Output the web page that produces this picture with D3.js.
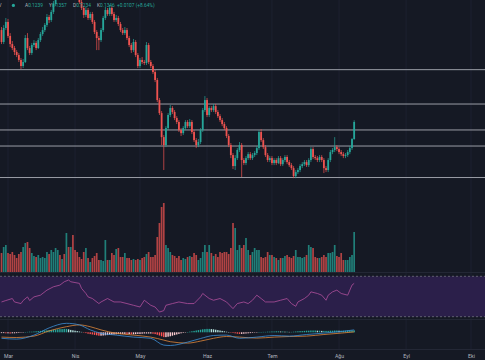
<!DOCTYPE html>
<html><head><meta charset="utf-8">
<script src="https://cdn.jsdelivr.net/npm/d3@7"></script>
<style>html,body{margin:0;padding:0;background:#151924;overflow:hidden}svg{display:block}</style>
</head><body><svg id="c" width="485" height="360"></svg>
<script>
// ---------- DATA ----------
const firstDay = new Date(2023, 1, 26);
const opens = [0.1924,0.1849,0.1937,0.1975,0.1887,0.1836,0.1811,0.1786,0.1767,0.1736,
0.1698,0.1723,0.1874,0.1811,0.1780,0.1830,0.1843,0.1811,0.1861,0.1899,
0.1924,0.1956,0.2006,0.1987,0.2038,0.2088,0.2144,0.2207,0.2176,0.2270,
0.2239,0.2333,0.2289,0.2314,0.2239,0.2188,0.2144,0.2100,0.2063,0.2019,
0.2050,0.2000,0.2025,0.1975,0.1912,0.1874,0.1861,0.1924,0.2000,0.2050,
0.2025,0.2063,0.2025,0.1987,0.2000,0.1962,0.1924,0.1905,0.1924,0.1874,
0.1830,0.1798,0.1849,0.1767,0.1698,0.1736,0.1723,0.1717,0.1830,0.1723,
0.1698,0.1660,0.1610,0.1484,0.1402,0.1251,0.1201,0.1308,0.1390,0.1434,
0.1409,0.1371,0.1346,0.1295,0.1276,0.1308,0.1346,0.1320,0.1346,0.1283,
0.1232,0.1201,0.1220,0.1295,0.1421,0.1484,0.1390,0.1434,0.1421,0.1446,
0.1409,0.1383,0.1358,0.1333,0.1308,0.1258,0.1201,0.1138,0.1069,0.1119,
0.1170,0.1201,0.1107,0.1088,0.1119,0.1144,0.1119,0.1138,0.1151,0.1182,
0.1283,0.1232,0.1188,0.1138,0.1107,0.1119,0.1088,0.1107,0.1088,0.1119,
0.1081,0.1107,0.1126,0.1094,0.1075,0.1056,0.1006,0.1031,0.1044,0.1069,
0.1081,0.1094,0.1075,0.1107,0.1176,0.1126,0.1119,0.1107,0.1126,0.1107,
0.1056,0.1044,0.1107,0.1157,0.1170,0.1188,0.1176,0.1157,0.1144,0.1132,
0.1138,0.1157,0.1182,0.1239];
const highs = [0.1943,0.1955,0.2000,0.1994,0.1905,0.1855,0.1824,0.1798,0.1780,0.1748,
0.1742,0.1893,0.1905,0.1824,0.1843,0.1861,0.1855,0.1874,0.1912,0.1943,
0.1968,0.2025,0.2019,0.2050,0.2107,0.2163,0.2226,0.2220,0.2289,0.2289,
0.2358,0.2346,0.2333,0.2327,0.2251,0.2207,0.2157,0.2119,0.2075,0.2069,
0.2063,0.2038,0.2038,0.1987,0.1924,0.1887,0.1937,0.2013,0.2069,0.2063,
0.2082,0.2075,0.2038,0.2019,0.2013,0.1975,0.1937,0.1943,0.1937,0.1887,
0.1843,0.1868,0.1861,0.1780,0.1748,0.1754,0.1736,0.1849,0.1843,0.1736,
0.1710,0.1673,0.1623,0.1497,0.1415,0.1264,0.1320,0.1402,0.1453,0.1446,
0.1421,0.1383,0.1358,0.1308,0.1320,0.1358,0.1358,0.1365,0.1358,0.1295,
0.1245,0.1239,0.1308,0.1434,0.1509,0.1497,0.1446,0.1446,0.1459,0.1459,
0.1421,0.1396,0.1371,0.1346,0.1320,0.1270,0.1214,0.1151,0.1138,0.1182,
0.1220,0.1214,0.1119,0.1132,0.1157,0.1157,0.1151,0.1163,0.1195,0.1295,
0.1301,0.1245,0.1201,0.1151,0.1132,0.1132,0.1119,0.1119,0.1132,0.1132,
0.1119,0.1138,0.1138,0.1107,0.1088,0.1069,0.1044,0.1056,0.1081,0.1094,
0.1107,0.1107,0.1119,0.1188,0.1188,0.1138,0.1132,0.1138,0.1138,0.1119,
0.1069,0.1119,0.1170,0.1182,0.1251,0.1201,0.1188,0.1170,0.1157,0.1151,
0.1170,0.1195,0.1245,0.1357];
const lows = [0.1836,0.1836,0.1924,0.1874,0.1817,0.1798,0.1767,0.1754,0.1723,0.1679,
0.1685,0.1717,0.1798,0.1767,0.1767,0.1817,0.1798,0.1805,0.1849,0.1887,
0.1912,0.1943,0.1968,0.1975,0.2025,0.2075,0.2132,0.2157,0.2163,0.2220,
0.2226,0.2270,0.2276,0.2220,0.2176,0.2132,0.2088,0.2050,0.2000,0.2006,
0.1987,0.1987,0.1962,0.1899,0.1798,0.1798,0.1849,0.1912,0.1987,0.2013,
0.2013,0.2013,0.1975,0.1975,0.1949,0.1912,0.1893,0.1893,0.1861,0.1817,
0.1780,0.1786,0.1754,0.1685,0.1685,0.1710,0.1704,0.1704,0.1710,0.1685,
0.1648,0.1597,0.1471,0.1390,0.1201,0.1044,0.1188,0.1295,0.1377,0.1396,
0.1358,0.1333,0.1283,0.1258,0.1264,0.1295,0.1308,0.1308,0.1270,0.1220,
0.1182,0.1188,0.1207,0.1283,0.1409,0.1377,0.1377,0.1409,0.1409,0.1396,
0.1371,0.1346,0.1320,0.1295,0.1245,0.1188,0.1119,0.1050,0.1044,0.1107,
0.1157,0.1000,0.1075,0.1075,0.1107,0.1107,0.1107,0.1126,0.1138,0.1170,
0.1220,0.1176,0.1126,0.1094,0.1094,0.1075,0.1075,0.1075,0.1081,0.1069,
0.1069,0.1094,0.1081,0.1063,0.1044,0.0993,0.0993,0.1019,0.1031,0.1056,
0.1069,0.1063,0.1063,0.1094,0.1113,0.1107,0.1094,0.1094,0.1094,0.1025,
0.1031,0.1031,0.1094,0.1144,0.1157,0.1163,0.1144,0.1132,0.1119,0.1119,
0.1126,0.1144,0.1170,0.1234];
const closes = [0.1849,0.1937,0.1975,0.1887,0.1836,0.1811,0.1786,0.1767,0.1736,0.1698,
0.1723,0.1874,0.1811,0.1780,0.1830,0.1843,0.1811,0.1861,0.1899,0.1924,
0.1956,0.2006,0.1987,0.2038,0.2088,0.2144,0.2207,0.2176,0.2270,0.2239,
0.2333,0.2289,0.2314,0.2239,0.2188,0.2144,0.2100,0.2063,0.2019,0.2050,
0.2000,0.2025,0.1975,0.1912,0.1874,0.1861,0.1924,0.2000,0.2050,0.2025,
0.2063,0.2025,0.1987,0.2000,0.1962,0.1924,0.1905,0.1924,0.1874,0.1830,
0.1798,0.1849,0.1767,0.1698,0.1736,0.1723,0.1717,0.1830,0.1723,0.1698,
0.1660,0.1610,0.1484,0.1402,0.1251,0.1201,0.1308,0.1390,0.1434,0.1409,
0.1371,0.1346,0.1295,0.1276,0.1308,0.1346,0.1320,0.1346,0.1283,0.1232,
0.1201,0.1220,0.1295,0.1421,0.1484,0.1390,0.1434,0.1421,0.1446,0.1409,
0.1383,0.1358,0.1333,0.1308,0.1258,0.1201,0.1138,0.1069,0.1119,0.1170,
0.1201,0.1107,0.1088,0.1119,0.1144,0.1119,0.1138,0.1151,0.1182,0.1283,
0.1232,0.1188,0.1138,0.1107,0.1119,0.1088,0.1107,0.1088,0.1119,0.1081,
0.1107,0.1126,0.1094,0.1075,0.1056,0.1006,0.1031,0.1044,0.1069,0.1081,
0.1094,0.1075,0.1107,0.1176,0.1126,0.1119,0.1107,0.1126,0.1107,0.1056,
0.1044,0.1107,0.1157,0.1170,0.1188,0.1176,0.1157,0.1144,0.1132,0.1138,
0.1157,0.1182,0.1239,0.1346];
// volume in millions
const volumes = [9.5,12.5,13.5,9.5,9,10,8.5,7,9,10,
12.5,14.5,15,12,9.5,8,7.5,8.5,7,7.5,
7,10,9,11,10,12,11,8.5,6.5,9,
19.5,12.5,12.5,18.5,11,10,7.5,6.5,10,12,
7,5,7,8,9.5,6,6,5.5,16,6,
6,9.5,8.5,11.5,12,7.5,7.5,9.5,7,7,
6,6.5,6,6.5,6,7,7.5,9,10,7.5,
7.5,8.5,17.5,24.5,32.5,34.5,13.5,12,10,8.5,
8,7,8,6,7,6.5,7.5,8,7.5,9.5,
8.5,6,7,10,13.5,10,13.5,9.5,8,9,
7.5,10,9.5,10,10,9,12,24.5,22,11,
13.5,12,13.5,17,11,8.5,10,12,11,11,
7.5,7,7.5,10,8.5,8.5,7.5,7,6,7,
7,8,8.5,7.5,7,8,11,7.5,7.5,7,
7.5,8.5,13.5,12.5,12,7.5,7,7,7.5,8.5,
7.5,9.5,9.5,10,13.5,8,7.5,9.5,6,6,
6,7.5,8.5,20];
// horizontal support / resistance levels
const levels = [0.1675, 0.1459, 0.1296, 0.1195, 0.0997];
// time axis
const monthTicks = [new Date(2023,2,1),new Date(2023,3,1),new Date(2023,4,1),new Date(2023,5,1),
  new Date(2023,6,1),new Date(2023,7,1),new Date(2023,8,1),new Date(2023,9,1)];
const monthLabels = ["Mar","Nis","May","Haz","Tem","Ağu","Eyl","Eki"];
// RSI (read at candle indices)
const rsiIdx = [0,2,5,6,9,10,12,13,15,18,21,24,27,29,31,32,36,37,39,40,42,45,46,49,52,55,58,61,64,66,
  69,71,73,75,76,79,82,86,89,92,93,96,98,101,104,107,109,112,114,116,118,120,122,126,129,132,134,136,137,140,
  142,143,146,148,150,151,153,155,157,160,161,162,163];
const rsiVal = [44.6,46,48,44.6,43,46,49.6,46,49.6,51.3,56.3,59.6,61.3,64.6,66.3,64.6,63,58,53,49.6,
  48,43,44.6,48,44.6,44.6,43,41.3,39.6,46.3,41.3,39.6,34.6,36,41.3,43,44.6,43,43,49.6,
  53,48,46.3,48,44.6,38,43,44.6,43,46.3,51.3,48,44.6,44.6,46.3,48,43,40.3,44.6,48,
  51.3,54.6,53,51.3,46.3,51.3,54.6,56.3,53,51.3,56.3,61.3,63];
const rsiBands = [70, 30];
// MACD (read at candle indices)
const macdIdx = [0,7,15,22,30,36,41,46,53,61,69,75,78,86,92,98,104,110,118,126,133,141,149,157,163];
const macdVal = [-0.0030,-0.0034,-0.0014,0.0022,0.0045,0.0037,0.0012,-0.0005,-0.0014,-0.0024,-0.0030,-0.0064,-0.0066,
  -0.0049,-0.0031,-0.0016,-0.0014,-0.0030,-0.0024,-0.0016,-0.0019,-0.0011,-0.0004,0.0004,0.0012];
const signalVal = [-0.0024,-0.0026,-0.0019,0.0007,0.0028,0.0037,0.0028,0.0012,-0.0005,-0.0014,-0.0024,-0.0039,-0.0047,
  -0.0054,-0.0044,-0.0030,-0.0021,-0.0024,-0.0029,-0.0024,-0.0021,-0.0019,-0.0011,-0.0004,0.0002];
// histogram per candle (x 0.0001)
const histVal = [-4,-4,-5,-5,-6,-5,-5,
 -4,-3,-2,-1,0,2,3,3,
 4,5,6,7,8,9,10,11,
 12,13,14,15,16,16,17,17,
 15,12,10,8,6,4,
 2,-1,-4,-7,-9,
 -11,-13,-15,-17,-17,-16,-15,
 -14,-13,-12,-11,-10,-9,-9,
 -8,-8,-9,-9,-10,-10,-9,
 -8,-8,-7,-6,-6,-6,-6,-7,
 -9,-12,-16,-20,-24,-24,-22,-20,
 -17,-14,-11,-8,-5,-3,-1,
 1,3,5,7,9,11,13,
 15,16,17,17,16,15,13,
 11,9,7,5,3,1,
 -1,-3,-5,-7,-8,-8,-7,
 -6,-5,-4,-3,-2,-1,0,1,
 2,2,3,3,4,4,5,5,4,4,3,3,2,2,3,4,5,6,6,7,
 8,8,9,9,9,8,8,7,7,7,7,8,8,9,9,8,8,8,8,9,9,10,10];

// ---------- CHART ----------
const W = 485;
const P = {mainTop:0, mainBot:272, rsiTop:273, rsiBot:319, macdTop:320, macdBot:349};
const UP = "#26a69a", DOWN = "#ef5350";
const svg = d3.select("#c");
const dayOf = i => d3.timeDay.offset(firstDay, i);
const candles = closes.map((c,i)=>({i, d:dayOf(i), o:opens[i], h:highs[i], l:lows[i], c, v:volumes[i]}));

const x = d3.scaleTime().domain([monthTicks[0], monthTicks[7]]).range([8, 471]);
const yP = d3.scaleLinear().domain([0.0403, 0.2113]).range([P.mainBot, P.mainTop]);
const yV = d3.scaleLinear().domain([0, 36]).range([P.mainBot, 200]);
const yR = d3.scaleLinear().domain([30, 70]).range([316.7, 276.3]);
const yM = d3.scaleLinear().domain([-0.00785, 0.00765]).range([P.macdBot-1, P.macdTop-3]);

svg.append("rect").attr("width",W).attr("height",360).attr("fill","#151924");
const defs = svg.append("defs");
function clip(id,y0,y1){defs.append("clipPath").attr("id",id).append("rect").attr("x",0).attr("y",y0).attr("width",W).attr("height",y1-y0);}
clip("cm",P.mainTop,P.mainBot); clip("cr",P.rsiTop,P.rsiBot); clip("cd",P.macdTop,P.macdBot);

// vertical grid
svg.append("g").selectAll("line").data(monthTicks).join("line")
  .attr("x1",d=>x(d)).attr("x2",d=>x(d)).attr("y1",0).attr("y2",P.macdBot)
  .attr("stroke","#1d2130").attr("stroke-width",1);

// pane separators
[P.mainBot+0.5, P.macdTop-0.5, P.macdBot+0.5].forEach(y=>{
  svg.append("line").attr("x1",0).attr("x2",W).attr("y1",y).attr("y2",y).attr("stroke","#232735").attr("stroke-width",1);
});

// main pane
const gm = svg.append("g").attr("clip-path","url(#cm)");
gm.append("g").selectAll("line").data(levels).join("line")
  .attr("x1",0).attr("x2",W).attr("y1",d=>yP(d)).attr("y2",d=>yP(d))
  .attr("stroke","#9a9da6").attr("stroke-width",1);
gm.append("g").selectAll("rect").data(candles).join("rect")
  .attr("x",d=>x(d.d)-0.85).attr("width",1.7)
  .attr("y",d=>yV(d.v)).attr("height",d=>yV(0)-yV(d.v))
  .attr("fill",d=>d.c>=d.o?UP:DOWN).attr("opacity",0.72);
gm.append("g").selectAll("line").data(candles).join("line")
  .attr("x1",d=>x(d.d)).attr("x2",d=>x(d.d)).attr("y1",d=>yP(d.h)).attr("y2",d=>yP(d.l))
  .attr("stroke",d=>d.c>=d.o?UP:DOWN).attr("stroke-width",0.7);
gm.append("g").selectAll("rect").data(candles).join("rect")
  .attr("x",d=>x(d.d)-0.9).attr("width",1.8)
  .attr("y",d=>yP(Math.max(d.o,d.c))).attr("height",d=>Math.max(0.7,Math.abs(yP(d.o)-yP(d.c))))
  .attr("fill",d=>d.c>=d.o?UP:DOWN);

// header
const last = candles[candles.length-1];
const prev = candles[candles.length-2];
const chg = last.c - prev.c;
const hdr = svg.append("g").attr("font-family","Roboto, 'Liberation Sans', sans-serif").attr("font-size",4.8);
hdr.append("text").attr("x",-1.5).attr("y",7.2).attr("fill","#b2b5be").text("V");
hdr.append("circle").attr("cx",13.4).attr("cy",5.4).attr("r",1.6).attr("fill",UP);
const f4 = d3.format(".4f");
[["A",last.o],["Y",last.h],["D",last.l],["K",last.c]].forEach(([k,v],j)=>{
  const t = hdr.append("text").attr("x",25+j*24).attr("y",7.2);
  t.append("tspan").attr("fill","#b2b5be").text(k);
  t.append("tspan").attr("fill",UP).text(f4(v));
});
hdr.append("text").attr("x",117).attr("y",7.2).attr("fill",UP)
  .text((chg>=0?"+":"")+f4(chg)+" ("+(chg>=0?"+":"")+d3.format(".2f")(chg/prev.c*100)+"%)");

// RSI pane
const gr = svg.append("g").attr("clip-path","url(#cr)");
gr.append("rect").attr("x",0).attr("width",W).attr("y",yR(rsiBands[0])).attr("height",yR(rsiBands[1])-yR(rsiBands[0])).attr("fill","#2b1f4a");
gr.append("g").selectAll("line").data(rsiBands).join("line")
  .attr("x1",0).attr("x2",W).attr("y1",d=>yR(d)).attr("y2",d=>yR(d))
  .attr("stroke","#787b86").attr("stroke-width",0.7).attr("stroke-dasharray","2,2");
gr.append("path").datum(rsiIdx.map((k,j)=>[dayOf(k),rsiVal[j]]))
  .attr("fill","none").attr("stroke","#b04f9c").attr("stroke-width",0.8)
  .attr("d",d3.line().x(d=>x(d[0])).y(d=>yR(d[1])));

// MACD pane
const gd = svg.append("g").attr("clip-path","url(#cd)");
gd.append("g").selectAll("rect").data(histVal.map((v,i)=>({i,v:v*0.0001,p:i>0?histVal[i-1]*0.0001:v*0.0001}))).join("rect")
  .attr("x",d=>x(dayOf(d.i))-0.7).attr("width",1.4)
  .attr("y",d=>Math.min(yM(0),yM(d.v))).attr("height",d=>Math.max(0.4,Math.abs(yM(d.v)-yM(0))))
  .attr("fill",d=>d.v>=0?(d.v>=d.p?"#26a69a":"#b2dfdb"):(d.v<d.p?"#ff5252":"#ffcdd2"));
const mline = d3.line().curve(d3.curveMonotoneX).x(d=>x(d[0])).y(d=>yM(d[1]));
gd.append("path").datum(macdIdx.map((k,j)=>[dayOf(k),signalVal[j]]))
  .attr("fill","none").attr("stroke","#e0873a").attr("stroke-width",0.8).attr("d",mline);
gd.append("path").datum(macdIdx.map((k,j)=>[dayOf(k),macdVal[j]]))
  .attr("fill","none").attr("stroke","#3d8fd6").attr("stroke-width",0.8).attr("d",mline);

// time axis
const ax = svg.append("g").attr("transform",`translate(0,${P.macdBot+1})`)
  .call(d3.axisBottom(x).tickValues(monthTicks).tickSize(0).tickPadding(4)
    .tickFormat((d,i)=>monthLabels[i]));
ax.select(".domain").remove();
ax.selectAll("text").attr("fill","#b2b5be").attr("font-size",5.2)
  .attr("font-family","Roboto, 'Liberation Sans', sans-serif");
</script>
</body></html>
